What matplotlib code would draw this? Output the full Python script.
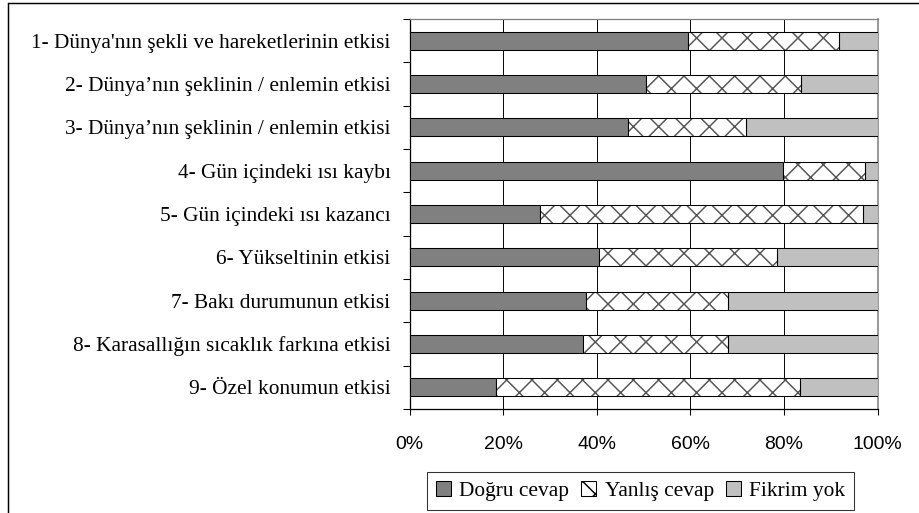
import matplotlib
matplotlib.use("Agg")
import matplotlib.pyplot as plt
from matplotlib.patches import Rectangle, Patch
import numpy as np

categories = [
    "1- Dünya'nın şekli ve hareketlerinin etkisi",
    "2- Dünya’nın şeklinin / enlemin etkisi",
    "3- Dünya’nın şeklinin / enlemin etkisi",
    "4- Gün içindeki ısı kaybı",
    "5- Gün içindeki ısı kazancı",
    "6- Yükseltinin etkisi",
    "7- Bakı durumunun etkisi",
    "8- Karasallığın sıcaklık farkına etkisi",
    "9- Özel konumun etkisi",
]
dogru = [59.4, 50.5, 46.7, 79.7, 27.8, 40.4, 37.6, 37.1, 18.4]
yanlis = [32.3, 33.1, 25.2, 17.5, 69.0, 38.1, 30.5, 31.0, 64.9]
fikrim = [8.3, 16.4, 28.1, 2.8, 3.2, 21.5, 31.9, 31.9, 16.7]
series_names = ["Doğru cevap", "Yanlış cevap", "Fikrim yok"]
xticks = [0, 20, 40, 60, 80, 100]
xticklabels = ["0%", "20%", "40%", "60%", "80%", "100%"]

DPI = 76
W, H = 919, 513
plt.rcParams["hatch.linewidth"] = 1.4
fig = plt.figure(figsize=(W / DPI, H / DPI), dpi=DPI)
ax = fig.add_axes([409.5 / W, 1 - 409 / H, (877.7 - 409.5) / W, (409 - 19) / H])

y = np.arange(len(categories))
d = np.array(dogru)
yl = np.array(yanlis)
f = np.array(fikrim)
tot = d + yl + f
d, yl, f = d / tot * 100, yl / tot * 100, f / tot * 100

h = 0.42
ax.barh(y, d, height=h, color="#808080", edgecolor="black", linewidth=1.0, zorder=3)
ax.barh(y, yl, left=d, height=h, color="white", edgecolor="#555555", hatch="x",
        linewidth=0, zorder=3)
ax.barh(y, yl, left=d, height=h, fill=False, edgecolor="black", linewidth=1.0, zorder=4)
ax.barh(y, f, left=d + yl, height=h, color="#C0C0C0", edgecolor="black", linewidth=1.0, zorder=3)

ax.set_xlim(0, 100)
ax.set_ylim(len(categories) - 0.5, -0.5)

ax.set_xticks(xticks)
ax.set_xticklabels(xticklabels, family="Liberation Sans", fontsize=18.3)
ax.tick_params(axis="x", direction="out", length=6, width=1, pad=20, color="black")

ax.set_yticks(y)
ax.set_yticklabels(categories, family="Liberation Serif", fontsize=20.3)
ax.set_yticks(np.arange(-0.5, len(categories)), minor=True)
ax.tick_params(axis="y", which="major", length=0, pad=18)
ax.tick_params(axis="y", which="minor", direction="out", length=7, width=1, color="black")

for xv in xticks[1:-1]:
    ax.axvline(xv, color="black", linewidth=0.9, zorder=1)

ax.spines["left"].set_color("black")
ax.spines["bottom"].set_color("black")
ax.spines["left"].set_linewidth(1.2)
ax.spines["bottom"].set_linewidth(1.2)
ax.spines["top"].set_color("#808080")
ax.spines["right"].set_color("#808080")
ax.spines["top"].set_linewidth(1.2)
ax.spines["right"].set_linewidth(1.5)

handles = [
    Patch(facecolor="#808080", edgecolor="black", linewidth=1.0),
    Patch(facecolor="white", edgecolor="black", hatch="x", linewidth=1.0),
    Patch(facecolor="#C0C0C0", edgecolor="black", linewidth=1.0),
]
leg = fig.legend(handles, series_names, loc="center", bbox_to_anchor=(640.5 / W, 1 - 491 / H),
                 ncol=3, frameon=True, fancybox=False, edgecolor="black",
                 prop={"family": "Liberation Serif", "size": 20.3},
                 handlelength=0.7, handleheight=0.7, handletextpad=0.4,
                 columnspacing=0.55, borderpad=0.4, borderaxespad=0)
leg.get_frame().set_linewidth(1.0)

fig.add_artist(Rectangle((8 / W, -0.05), 1.1, (1 - 3 / H) + 0.05, transform=fig.transFigure,
                         fill=False, edgecolor="black", linewidth=1.4))

fig.savefig("out.png", dpi=DPI)
